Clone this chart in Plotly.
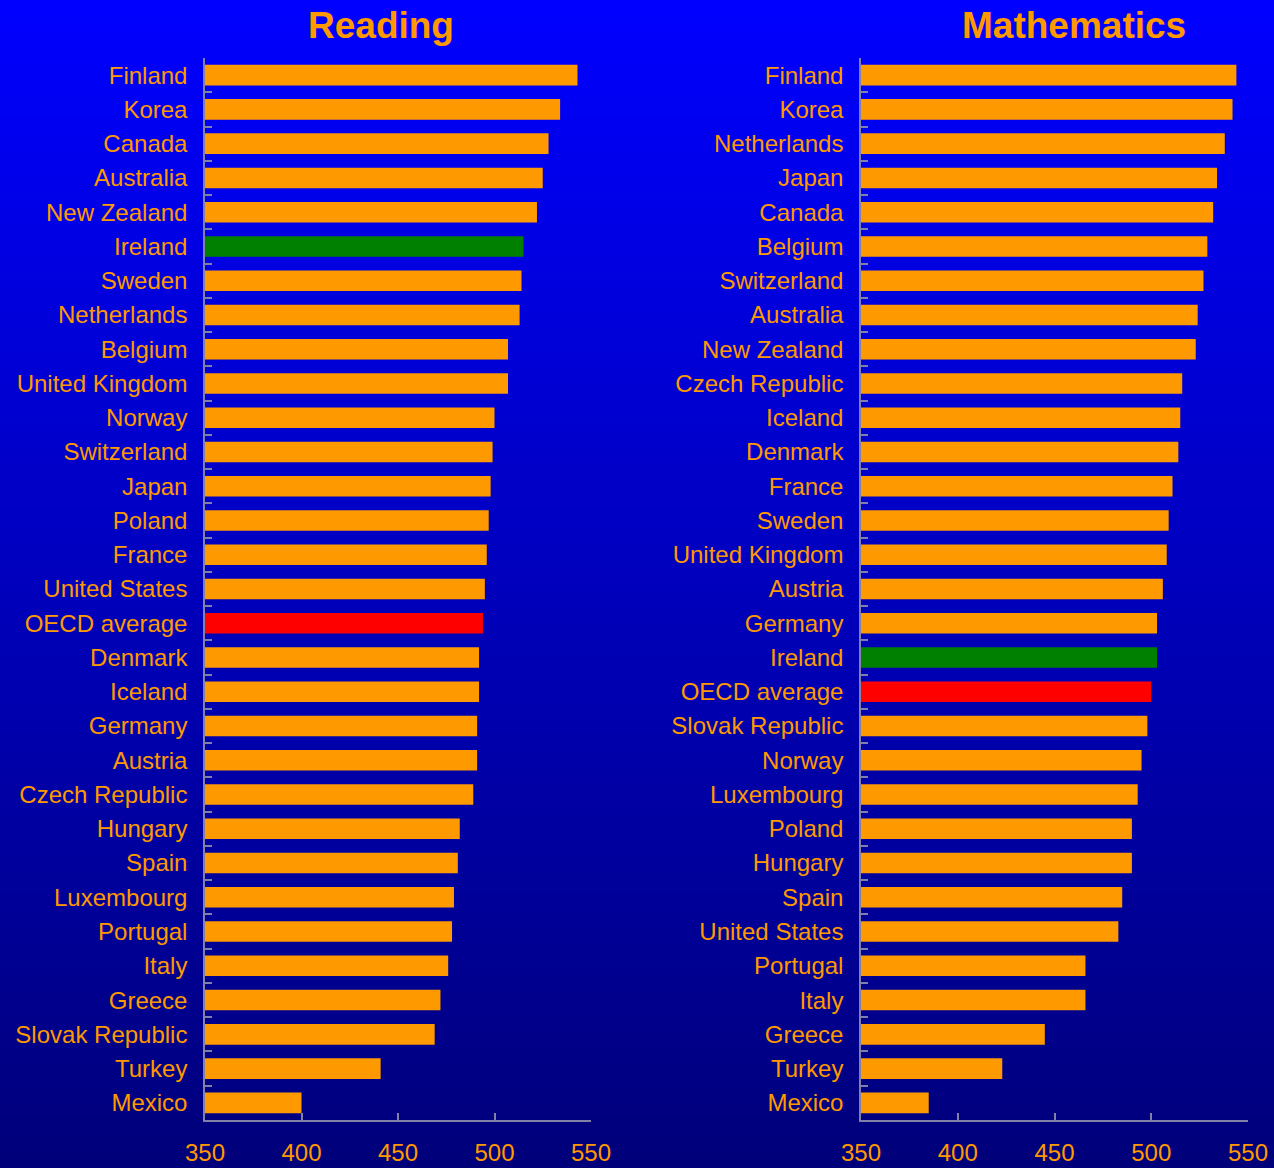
import plotly.graph_objects as go

reading_countries = ["Finland", "Korea", "Canada", "Australia", "New Zealand", "Ireland", "Sweden",
                     "Netherlands", "Belgium", "United Kingdom", "Norway", "Switzerland", "Japan",
                     "Poland", "France", "United States", "OECD average", "Denmark", "Iceland",
                     "Germany", "Austria", "Czech Republic", "Hungary", "Spain", "Luxembourg",
                     "Portugal", "Italy", "Greece", "Slovak Republic", "Turkey", "Mexico"]
reading_scores = [543, 534, 528, 525, 522, 515, 514, 513, 507, 507, 500, 499, 498, 497, 496, 495,
                  494, 492, 492, 491, 491, 489, 482, 481, 479, 478, 476, 472, 469, 441, 400]

math_countries = ["Finland", "Korea", "Netherlands", "Japan", "Canada", "Belgium", "Switzerland",
                  "Australia", "New Zealand", "Czech Republic", "Iceland", "Denmark", "France",
                  "Sweden", "United Kingdom", "Austria", "Germany", "Ireland", "OECD average",
                  "Slovak Republic", "Norway", "Luxembourg", "Poland", "Hungary", "Spain",
                  "United States", "Portugal", "Italy", "Greece", "Turkey", "Mexico"]
math_scores = [544, 542, 538, 534, 532, 529, 527, 524, 523, 516, 515, 514, 511, 509, 508, 506,
               503, 503, 500, 498, 495, 493, 490, 490, 485, 483, 466, 466, 445, 423, 385]

x_ticks = [350, 400, 450, 500, 550]

ORANGE = "#FF9900"
GREEN = "#008000"
RED = "#FF0000"


def bar_colors(names):
    out = []
    for n in names:
        if n == "Ireland":
            out.append(GREEN)
        elif n == "OECD average":
            out.append(RED)
        else:
            out.append(ORANGE)
    return out


W, H = 1274, 1168
T, B = 58, 48

fig = go.Figure()
fig.add_trace(go.Bar(x=reading_scores, y=reading_countries, orientation="h",
                     marker=dict(color=bar_colors(reading_countries), line=dict(width=0)),
                     width=0.6, xaxis="x", yaxis="y", showlegend=False))
fig.add_trace(go.Bar(x=math_scores, y=math_countries, orientation="h",
                     marker=dict(color=bar_colors(math_countries), line=dict(width=0)),
                     width=0.6, xaxis="x2", yaxis="y2", showlegend=False))

# gradient background via stripes
shapes = []
N = 140
ph = H - T - B
y_bot = -B / ph
y_top = 1 + T / ph
c_top = (0, 0, 255)
c_bot = (0, 0, 122)
for i in range(N):
    f0 = i / N
    f1 = (i + 1) / N
    t = (i + 0.5) / N
    col = tuple(round(c_top[k] + (c_bot[k] - c_top[k]) * t) for k in range(3))
    shapes.append(dict(type="rect", xref="paper", yref="paper", layer="below",
                       x0=-0.01, x1=1.01,
                       y0=y_top - (y_top - y_bot) * f1 - 0.001, y1=y_top - (y_top - y_bot) * f0 + 0.001,
                       fillcolor="rgb(%d,%d,%d)" % col, line=dict(width=0)))

axis_col = "#8080A8"
font_main = "Liberation Sans, Arial, sans-serif"

xcommon = dict(range=[350, 550], tickvals=x_ticks, ticks="inside", ticklen=7, tickcolor=axis_col,
               tickwidth=1.5,
               showline=True, linecolor=axis_col, linewidth=1.5, showgrid=False, zeroline=False,
               tickfont=dict(color=ORANGE, size=24, family=font_main), ticklabelstandoff=10,
               automargin=False, fixedrange=True)
ycommon = dict(type="category", autorange="reversed", tickson="boundaries", ticks="inside",
               ticklen=7, tickcolor=axis_col, tickwidth=1.5, showline=True, linecolor=axis_col,
               linewidth=1.5,
               showgrid=False, tickfont=dict(color=ORANGE, size=24, family=font_main),
               ticklabelstandoff=11, automargin=False, fixedrange=True)

fig.update_layout(
    width=W, height=H,
    margin=dict(l=0, r=0, t=T, b=B),
    paper_bgcolor="#0000C0", plot_bgcolor="rgba(0,0,0,0)",
    bargap=0.4,
    xaxis=dict(domain=[205 / W, 591 / W], anchor="y", **xcommon),
    yaxis=dict(domain=[0, 1], anchor="x", **ycommon),
    xaxis2=dict(domain=[861 / W, 1248 / W], anchor="y2", **xcommon),
    yaxis2=dict(domain=[0, 1], anchor="x2", **ycommon),
    shapes=shapes,
    annotations=[
        dict(text="<b>Reading</b>", x=381 / W, y=1 + (T - 25) / ph, xref="paper", yref="paper",
             showarrow=False, xanchor="center", yanchor="middle",
             font=dict(color=ORANGE, size=37, family=font_main)),
        dict(text="<b>Mathematics</b>", x=1074 / W, y=1 + (T - 25) / ph, xref="paper", yref="paper",
             showarrow=False, xanchor="center", yanchor="middle",
             font=dict(color=ORANGE, size=37, family=font_main)),
    ],
)

fig.write_html("out.html")
